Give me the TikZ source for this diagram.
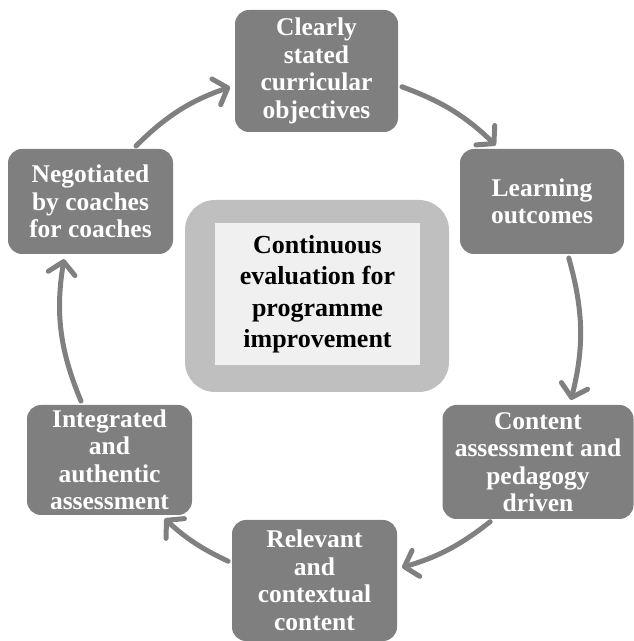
\documentclass[tikz,border=0pt]{standalone}
\usepackage{fontspec}
\setmainfont{Liberation Serif}
\usetikzlibrary{arrows.meta}

\definecolor{boxgray}{HTML}{7F7F7F}
\definecolor{flowgray}{HTML}{808080}
\definecolor{framegray}{HTML}{BFBFBF}
\definecolor{coregray}{HTML}{F0F0F0}

\begin{document}
\begin{tikzpicture}[x=1pt, y=1pt,
  stage/.style={fill=boxgray, rounded corners=14pt, text=white, align=center, inner sep=0pt,
    font=\bfseries\fontsize{25.5}{27.5}\selectfont},
  flow/.style={draw=flowgray, line width=5pt, line cap=round,
    -{Straight Barb[length=12pt, width=27pt, round]}, shorten <=4pt, shorten >=5pt}]
  \useasboundingbox (0,0) rectangle (633,641);

  % centre block: light frame around the pale core
  \node[fill=framegray, rounded corners=30pt, minimum width=264pt, minimum height=192pt] (frame) at (317,345) {};
  \node[fill=coregray, minimum width=205pt, minimum height=142pt, align=center, inner sep=0pt,
    font=\bfseries\fontsize{26}{31.5}\selectfont] (core) at (317.5,347)
    {Continuous\\evaluation for\\programme\\improvement};

  % the six stages of the cycle
  \node[stage, minimum width=163pt, minimum height=122pt] (clear) at (316.5,570) {Clearly\\stated\\curricular\\objectives};
  \node[stage, minimum width=164pt, minimum height=105pt] (learn) at (542,439.5) {Learning\\outcomes};
  \node[stage, minimum width=191pt, minimum height=114pt] (content) at (538,179) {Content\\assessment and\\pedagogy\\driven};
  \node[stage, minimum width=165pt, minimum height=121pt] (relev) at (314.5,60.5) {Relevant\\and\\contextual\\content};
  \node[stage, minimum width=165pt, minimum height=110pt] (integ) at (109.5,181) {Integrated\\and\\authentic\\assessment};
  \node[stage, minimum width=165pt, minimum height=105pt] (negot) at (90.5,439.5) {Negotiated\\by coaches\\for coaches};

  % clockwise arrows
  \draw[flow] (clear.-10) to[bend left=12] (learn.129);
  \draw[flow] (learn.-64.5) to[bend left=15] (content.61);
  \draw[flow] (content.-128) to[bend left=11] (relev.8);
  \draw[flow] (relev.168) to[bend left=9] (integ.-47);
  \draw[flow] (integ.116) to[bend left=16] (negot.-116);
  \draw[flow] (negot.51) to[bend left=13] (clear.190);
\end{tikzpicture}
\end{document}
